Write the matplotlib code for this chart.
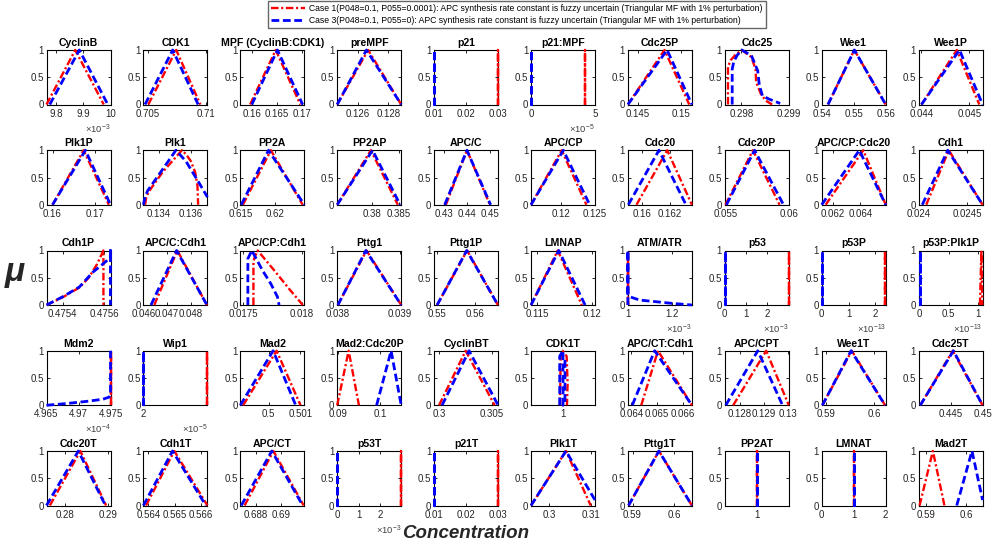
import matplotlib
matplotlib.use('Agg')
import matplotlib.pyplot as plt
from matplotlib.lines import Line2D
from matplotlib.ticker import FixedLocator, FixedFormatter

plt.rcParams['font.family'] = ['Liberation Sans', 'DejaVu Sans']
plt.rcParams['mathtext.fontset'] = 'custom'
plt.rcParams['mathtext.rm'] = 'Liberation Sans'
plt.rcParams['mathtext.it'] = 'Liberation Sans:italic'

T = [0, 1, 0]

titles = ['CyclinB', 'CDK1', 'MPF (CyclinB:CDK1)', 'preMPF', 'p21', 'p21:MPF', 'Cdc25P', 'Cdc25', 'Wee1', 'Wee1P',
          'Plk1P', 'Plk1', 'PP2A', 'PP2AP', 'APC/C', 'APC/CP', 'Cdc20', 'Cdc20P', 'APC/CP:Cdc20', 'Cdh1',
          'Cdh1P', 'APC/C:Cdh1', 'APC/CP:Cdh1', 'Pttg1', 'Pttg1P', 'LMNAP', 'ATM/ATR', 'p53', 'p53P', 'p53P:Plk1P',
          'Mdm2', 'Wip1', 'Mad2', 'Mad2:Cdc20P', 'CyclinBT', 'CDK1T', 'APC/CT:Cdh1', 'APC/CPT', 'Wee1T', 'Cdc25T',
          'Cdc20T', 'Cdh1T', 'APC/CT', 'p53T', 'p21T', 'Plk1T', 'Pttg1T', 'PP2AT', 'LMNAT', 'Mad2T']

# Case 1 (red) membership curves
red_x = [
    [9.764e-3, 9.870e-3, 9.975e-3], [0.70506, 0.70744, 0.70950], [0.15967, 0.16477, 0.16967],
    [0.12466, 0.12668, 0.12884], [0.03, 0.03, 0.03], [4.23e-5, 4.23e-5, 4.23e-5],
    [0.14381, 0.14808, 0.15096],
    [0.297717, 0.297717, 0.297771, 0.297872, 0.298008, 0.298211, 0.298298, 0.298312, 0.298413, 0.298514, 0.298648],
    [0.54196, 0.55021, 0.56], [0.044, 0.044738, 0.045207],
    [0.16, 0.16732, 0.17323],
    [0.133155, 0.133216, 0.133361, 0.134247, 0.135443, 0.135691, 0.136, 0.136268, 0.136412, 0.136454],
    [0.61538, 0.61939, 0.62396], [0.37378, 0.37988, 0.38476], [0.431, 0.44, 0.4498],
    [0.11554, 0.1201, 0.12377], [0.15957, 0.16179, 0.16357], [0.055, 0.05717, 0.05927],
    [0.06147, 0.06422, 0.06586], [0.024079, 0.024312, 0.024661],
    [0.4753232, 0.4754, 0.47548, 0.4755248, 0.4755648, 0.4755952, 0.4755952],
    [0.04646, 0.04743, 0.04868],
    [0.017589, 0.017589, 0.0176, 0.017625, 0.017778, 0.017889, 0.018006],
    [0.038011, 0.038465, 0.039016], [0.55, 0.5579, 0.566],
    [0.11443, 0.11686, 0.11904], [1e-3, 1e-3, 1e-3], [2.99e-3, 2.99e-3, 2.99e-3],
    [2.37e-13, 2.37e-13, 2.37e-13], [1.04e-13, 1.065e-13, 1.08e-13],
    [4.975e-4, 4.975e-4, 4.975e-4], [2.8e-5, 2.8e-5, 2.8e-5], [0.4992, 0.50025, 0.501],
    [0.08984, 0.09256, 0.0950], [0.3, 0.30251, 0.30524],
    [0.999814, 0.999856, 0.999979, 1.000227, 1.000289, 1.000247],
    [0.06438, 0.06503, 0.06635], [0.12773, 0.1291, 0.13004], [0.58917, 0.59531, 0.60228],
    [0.44011, 0.44526, 0.45],
    [0.27648, 0.28359, 0.28961], [0.56391, 0.56499, 0.56625], [0.68707, 0.68941, 0.69187],
    [2.99e-3, 2.99e-3, 2.99e-3], [0.03, 0.03, 0.03], [0.29552, 0.304, 0.31],
    [0.58906, 0.5963, 0.60417], [1, 1, 1], [1, 1, 1], [0.58833, 0.59167, 0.59458],
]
red_y = list([T] * 50)
red_y[7] = [0, 0.69, 0.81, 0.91, 1, 0.87, 0.65, 0.41, 0.19, 0.07, 0]
red_y[11] = [0, 0.12, 0.23, 0.6, 1, 0.93, 0.8, 0.6, 0.35, 0]
red_y[20] = [0, 0.14, 0.32, 0.5, 0.75, 1, 0]
red_y[22] = [0, 0.8, 0.88, 1, 0.6, 0.3, 0]
red_y[35] = [0, 0.9, 1, 0.9, 0.4, 0]

# Case 3 (blue) membership curves
blue_x = [
    [9.776e-3, 9.885e-3, 9.99e-3], [0.70478, 0.70714, 0.70931], [0.16, 0.1651, 0.17013],
    [0.12466, 0.12657, 0.12884], [0.01, 0.01, 0.01], [0, 0, 0],
    [0.14381, 0.14838, 0.15127],
    [0.297806, 0.297806, 0.297838, 0.297907, 0.298008, 0.298211, 0.298344, 0.298379, 0.298445, 0.298581, 0.298818],
    [0.54196, 0.55021, 0.56], [0.044, 0.044793, 0.045276],
    [0.16, 0.16772, 0.17362],
    [0.133052, 0.133155, 0.13332, 0.134247, 0.135072, 0.135691, 0.136103, 0.136515, 0.137031],
    [0.61514, 0.61906, 0.6242], [0.37378, 0.38018, 0.38518], [0.4305, 0.44, 0.4501],
    [0.11554, 0.12034, 0.12426], [0.15898, 0.16119, 0.16314], [0.05508, 0.0573, 0.05958],
    [0.06118, 0.06393, 0.06586], [0.024038, 0.024301, 0.024661],
    [0.4753232, 0.4754, 0.47548, 0.475544, 0.475592, 0.4756288, 0.4756288, 0.4756288],
    [0.04632, 0.0474, 0.04868],
    [0.017542, 0.017542, 0.017575, 0.017667, 0.017736, 0.017792, 0.017806],
    [0.038011, 0.038455, 0.039016], [0.55, 0.5578, 0.566],
    [0.11443, 0.11695, 0.11934],
    [1e-3, 1e-3, 1e-3, 1.009e-3, 1.054e-3, 1.128e-3, 1.2e-3, 1.29e-3],
    [0, 0, 0], [0, 0, 0], [0, 0, 0],
    [4.965e-4, 4.968e-4, 4.9712e-4, 4.9738e-4, 4.9748e-4, 4.975e-4, 4.975e-4],
    [2e-5, 2e-5, 2e-5], [0.49911, 0.50014, 0.50085],
    [0.0992, 0.10264, 0.10504], [0.30028, 0.30283, 0.30557],
    [0.999794, 0.999794, 1.0, 1.0, 1.000124, 1.000124],
    [0.06403, 0.0649, 0.06635], [0.12742, 0.12875, 0.12978], [0.58917, 0.59517, 0.60228],
    [0.44011, 0.44537, 0.45],
    [0.2757, 0.28313, 0.28945], [0.56381, 0.56492, 0.56619], [0.6868, 0.68928, 0.69179],
    [0, 0, 0], [0.01, 0.01, 0.01], [0.29552, 0.304, 0.31104],
    [0.58906, 0.5963, 0.60417], [1, 1, 1], [1, 1, 1], [0.59767, 0.6015, 0.60417],
]
blue_y = list([T] * 50)
blue_y[7] = [0, 0.65, 0.78, 0.9, 1, 0.9, 0.62, 0.35, 0.16, 0.1, 0.02]
blue_y[11] = [0, 0.15, 0.26, 0.65, 1, 0.8, 0.6, 0.4, 0.14]
blue_y[20] = [0, 0.15, 0.33, 0.6, 0.75, 0.87, 1, 0]
blue_y[22] = [0, 0.85, 1, 0.63, 0.39, 0.15, 0]
blue_y[26] = [0, 1, 0.2, 0.15, 0.09, 0.06, 0.03, 0]
blue_y[30] = [0, 0.03, 0.07, 0.11, 0.15, 0.2, 1]
blue_y[35] = [0, 0.9, 1, 0, 0.05, 0.88]
blue_y[45] = [0, 1, 0.1]
blue_y[49] = [0, 1, 0.1]

xlims = [
    (9.764e-3, 10.0e-3), (0.70464, 0.7101), (0.15771, 0.17046), (0.12466, 0.12884), (0.01, 0.03),
    (0, 5e-5), (0.14381, 0.15127), (0.29765, 0.299), (0.54, 0.56), (0.04394, 0.045276),
    (0.15858, 0.17362), (0.13305, 0.13703), (0.615, 0.6242), (0.37378, 0.38537), (0.42597, 0.4533),
    (0.11554, 0.12505), (0.15895, 0.16357), (0.05495, 0.06), (0.06118, 0.06586), (0.024, 0.024661),
    (0.475323, 0.475629), (0.046, 0.0487), (0.017478, 0.018019), (0.038, 0.039016), (0.54921, 0.56605),
    (0.11443, 0.12024), (1e-3, 1.29e-3), (0, 3.0e-3), (0, 2.38e-13), (-0.02e-13, 1.086e-13),
    (4.965e-4, 4.975e-4), (2e-5, 2.8e-5), (0.49911, 0.50112), (0.08984, 0.10504), (0.29953, 0.30557),
    (0.998, 1.002), (0.06386, 0.06635), (0.12738, 0.13004), (0.58903, 0.60241), (0.43984, 0.45),
    (0.2757, 0.29063), (0.56381, 0.56625), (0.68672, 0.69192), (0, 3.0e-3), (0.01, 0.03),
    (0.29552, 0.31104), (0.5889, 0.60417), (0.9, 1.1), (0, 2), (0.58808, 0.60417),
]

xticks = [
    [9.8e-3, 9.9e-3, 10e-3], [0.705, 0.71], [0.16, 0.165, 0.17], [0.126, 0.128], [0.01, 0.02, 0.03],
    [0, 5e-5], [0.145, 0.15], [0.298, 0.299], [0.54, 0.55, 0.56], [0.044, 0.045],
    [0.16, 0.17], [0.134, 0.136], [0.615, 0.62], [0.38, 0.385], [0.43, 0.44, 0.45],
    [0.12, 0.125], [0.16, 0.162], [0.055, 0.06], [0.062, 0.064], [0.024, 0.0245],
    [0.4754, 0.4756], [0.046, 0.047, 0.048], [0.0175, 0.018], [0.038, 0.039], [0.55, 0.56],
    [0.115, 0.12], [1e-3, 1.2e-3], [0, 1e-3, 2e-3], [0, 1e-13, 2e-13], [0, 0.5e-13, 1e-13],
    [4.965e-4, 4.97e-4, 4.975e-4], [2e-5], [0.5, 0.501], [0.09, 0.1], [0.3, 0.305],
    [1], [0.064, 0.065, 0.066], [0.128, 0.129, 0.13], [0.59, 0.6], [0.445, 0.45],
    [0.28, 0.29], [0.564, 0.565, 0.566], [0.688, 0.69], [0, 1e-3, 2e-3], [0.01, 0.02, 0.03],
    [0.3, 0.31], [0.59, 0.6], [1], [0, 1, 2], [0.59, 0.6],
]

xticklabels = [
    ['9.8', '9.9', '10'], ['0.705', '0.71'], ['0.16', '0.165', '0.17'], ['0.126', '0.128'], ['0.01', '0.02', '0.03'],
    ['0', '5'], ['0.145', '0.15'], ['0.298', '0.299'], ['0.54', '0.55', '0.56'], ['0.044', '0.045'],
    ['0.16', '0.17'], ['0.134', '0.136'], ['0.615', '0.62'], ['0.38', '0.385'], ['0.43', '0.44', '0.45'],
    ['0.12', '0.125'], ['0.16', '0.162'], ['0.055', '0.06'], ['0.062', '0.064'], ['0.024', '0.0245'],
    ['0.4754', '0.4756'], ['0.046', '0.047', '0.048'], ['0.0175', '0.018'], ['0.038', '0.039'], ['0.55', '0.56'],
    ['0.115', '0.12'], ['1', '1.2'], ['0', '1', '2'], ['0', '1', '2'], ['0', '0.5', '1'],
    ['4.965', '4.97', '4.975'], ['2'], ['0.5', '0.501'], ['0.09', '0.1'], ['0.3', '0.305'],
    ['1'], ['0.064', '0.065', '0.066'], ['0.128', '0.129', '0.13'], ['0.59', '0.6'], ['0.445', '0.45'],
    ['0.28', '0.29'], ['0.564', '0.565', '0.566'], ['0.688', '0.69'], ['0', '1', '2'], ['0.01', '0.02', '0.03'],
    ['0.3', '0.31'], ['0.59', '0.6'], ['1'], ['0', '1', '2'], ['0.59', '0.6'],
]

exponents = {0: '-3', 5: '-5', 26: '-3', 27: '-3', 28: '-13', 29: '-13', 30: '-4', 31: '-5', 43: '-3'}

legend_labels = [
    'Case 1(P048=0.1, P055=0.0001): APC synthesis rate constant is fuzzy uncertain (Triangular MF with 1% perturbation)',
    'Case 3(P048=0.1, P055=0): APC synthesis rate constant is fuzzy uncertain (Triangular MF with 1% perturbation)',
]

RED_STYLE = dict(color='red', lw=1.7, linestyle=(0, (3.2, 1.1, 0.9, 1.1)))
BLUE_STYLE = dict(color='blue', lw=2.0, linestyle=(0, (2.8, 1.3)))
TXT = '#262626'

W, H = 997, 548
fig = plt.figure(figsize=(W / 100, H / 100), dpi=100)

for i in range(50):
    r, c = divmod(i, 10)
    left = 46.5 + 96.9 * c
    top = 50 + 100.25 * r
    ax = fig.add_axes([left / W, 1 - (top + 54.5) / H, 64 / W, 54.5 / H])
    ax.plot(red_x[i], red_y[i], clip_on=False, zorder=3, **RED_STYLE)
    ax.plot(blue_x[i], blue_y[i], clip_on=False, zorder=3.1, **BLUE_STYLE)
    ax.set_xlim(*xlims[i])
    ax.set_ylim(0, 1)
    ax.xaxis.set_major_locator(FixedLocator(xticks[i]))
    ax.xaxis.set_major_formatter(FixedFormatter(xticklabels[i]))
    ax.set_yticks([0, 0.5, 1])
    ax.set_yticklabels(['0', '0.5', '1'])
    ax.tick_params(direction='in', length=2.5, width=0.6, top=True, right=True,
                   labelsize=7, pad=2, labelcolor=TXT)
    ax.tick_params(axis='x', pad=3)
    for s in ax.spines.values():
        s.set_linewidth(0.8)
        s.set_color('black')
    ax.set_title(titles[i], fontsize=7.6, fontweight='bold', pad=3, color='black')
    if i in exponents:
        ax.text(1.0, -0.45, r'$\times\mathregular{10^{%s}}$' % exponents[i], transform=ax.transAxes,
                ha='right', va='center', fontsize=6.8, color='#404040')

handles = [Line2D([], [], **RED_STYLE), Line2D([], [], **BLUE_STYLE)]
leg = fig.legend(handles, legend_labels, loc='upper center', bbox_to_anchor=(517 / W, 1 - 1 / H),
                 fontsize=6.2, frameon=True, fancybox=False, edgecolor='#404040', handlelength=3.9,
                 borderpad=0.4, labelspacing=0.3, handletextpad=0.5, borderaxespad=0)
leg.get_frame().set_linewidth(1.0)

fig.text(15 / W, 1 - 272 / H, '\u03bc', fontsize=24, fontweight='bold', fontstyle='italic',
         ha='center', va='center', color=TXT)
fig.text(466 / W, 1 - 533 / H, 'Concentration', fontsize=13.5, fontweight='bold', fontstyle='italic',
         ha='center', va='center', color=TXT)

fig.savefig('out.png', dpi=100)
